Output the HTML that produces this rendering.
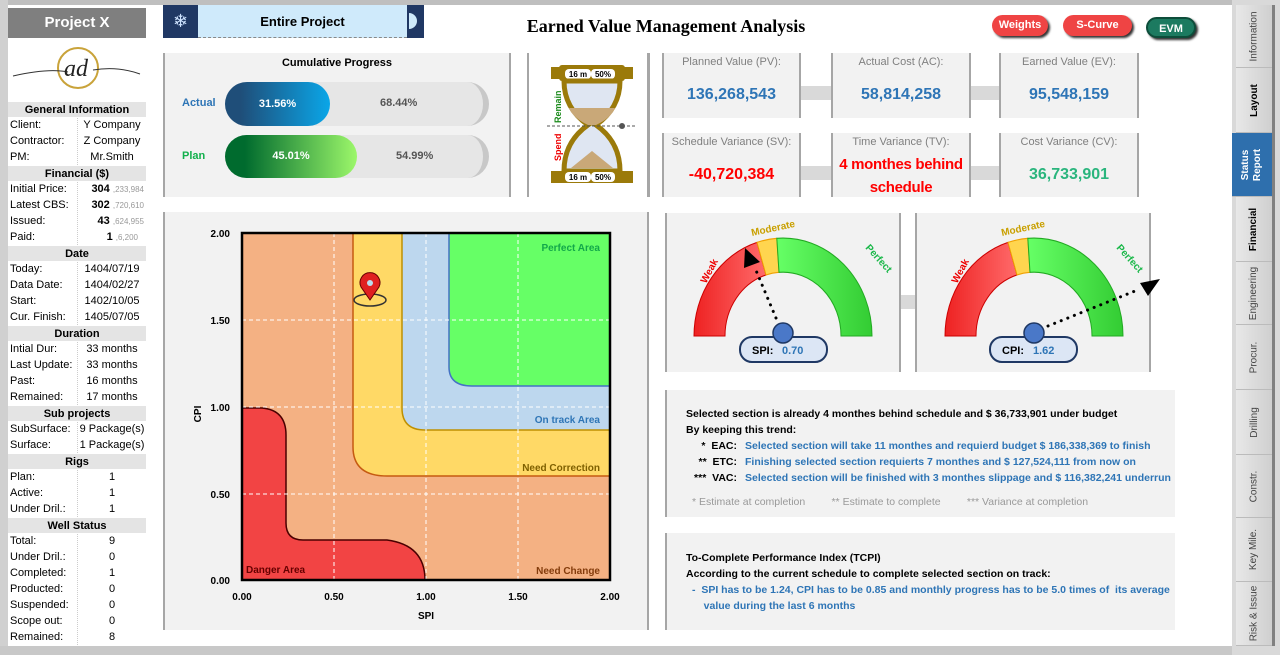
<!DOCTYPE html>
<html><head><meta charset="utf-8"><style>
*{margin:0;padding:0;box-sizing:border-box}
body{width:1280px;height:655px;position:relative;background:#fff;font-family:"Liberation Sans",Calibri,sans-serif;overflow:hidden;font-size:11px}
.a{position:absolute}
.panel{position:absolute;background:#f2f2f2;border-left:2px solid #a6a6a6;border-right:2px solid #a6a6a6}
.side div.r{height:16px;display:flex;border-bottom:1px solid #fff;background:#fff;font-size:11px;line-height:15px}
.side .r span:first-child{width:70px;padding-left:2px;border-right:1px dotted #ccc}
.side .r span:last-child{flex:1;text-align:center}
.side .h{height:16px;background:#e4e4e4;text-align:center;font-weight:bold;font-size:11px;line-height:16px;border-bottom:1px solid #fff}
.kpi{position:absolute;background:#f2f2f2;border-left:2px solid #a6a6a6;border-right:2px solid #a6a6a6;text-align:center}
.kpi .t{color:#7f7f7f;font-size:11px;margin-top:3px}
.kpi .v{font-weight:bold;font-size:16px;color:#2e75b6;margin-top:18px}
.tab{position:absolute;left:1236px;width:36px;background:linear-gradient(90deg,#e8e8e8,#cfcfcf);border-bottom:1px solid #bbb;display:flex;align-items:center;justify-content:center}
.tab span{transform:rotate(-90deg);white-space:nowrap;font-size:10px;color:#444}
.btn{position:absolute;height:21px;border-radius:11px;color:#fff;font-weight:bold;font-size:11px;text-align:center;line-height:20px;box-shadow:2px 2px 2px #333}
</style></head><body>
<div class="a" style="left:0;top:0;width:1280px;height:5px;background:#bfbfbf"></div>
<div class="a" style="left:0;top:0;width:8px;height:655px;background:#d0d0d0"></div>
<div class="a" style="left:0;top:646px;width:1232px;height:9px;background:#c8c8c8"></div>

<!-- sidebar -->
<div class="a side" style="left:8px;top:8px;width:138px">
<div style="height:30px;background:#7f7f7f;color:#fff;font-weight:bold;font-size:15px;text-align:center;line-height:30px">Project X</div>
<div style="height:64px;background:#fff;position:relative">
<svg width="138" height="64"><circle cx="70" cy="30" r="20" fill="none" stroke="#c9a33a" stroke-width="2"/><path d="M5 38 Q40 30 60 34 M85 32 Q110 28 132 36" stroke="#333" fill="none"/><text x="56" y="38" font-family="Liberation Serif" font-style="italic" font-size="24" fill="#222">ad</text></svg></div>
<div class="h">General Information</div>
<div class="r"><span>Client:</span><span>Y Company</span></div>
<div class="r"><span>Contractor:</span><span>Z Company</span></div>
<div class="r"><span>PM:</span><span>Mr.Smith</span></div>
<div class="h">Financial ($)</div>
<div class="r"><span>Initial Price:</span><span style="text-align:right;padding-right:2px"><b>304</b> <small style="color:#999;font-size:8px">,233,984</small></span></div>
<div class="r"><span>Latest CBS:</span><span style="text-align:right;padding-right:2px"><b>302</b> <small style="color:#999;font-size:8px">,720,610</small></span></div>
<div class="r"><span>Issued:</span><span style="text-align:right;padding-right:2px"><b>43</b> <small style="color:#999;font-size:8px">,624,955</small></span></div>
<div class="r"><span>Paid:</span><span style="text-align:right;padding-right:8px"><b>1</b> <small style="color:#999;font-size:8px">,6,200</small></span></div>
<div class="h">Date</div>
<div class="r"><span>Today:</span><span>1404/07/19</span></div>
<div class="r"><span>Data Date:</span><span>1404/02/27</span></div>
<div class="r"><span>Start:</span><span>1402/10/05</span></div>
<div class="r"><span>Cur. Finish:</span><span>1405/07/05</span></div>
<div class="h">Duration</div>
<div class="r"><span>Intial Dur:</span><span>33 months</span></div>
<div class="r"><span>Last Update:</span><span>33 months</span></div>
<div class="r"><span>Past:</span><span>16 months</span></div>
<div class="r"><span>Remained:</span><span>17 months</span></div>
<div class="h">Sub projects</div>
<div class="r"><span>SubSurface:</span><span>9 Package(s)</span></div>
<div class="r"><span>Surface:</span><span>1 Package(s)</span></div>
<div class="h">Rigs</div>
<div class="r"><span>Plan:</span><span>1</span></div>
<div class="r"><span>Active:</span><span>1</span></div>
<div class="r"><span>Under Dril.:</span><span>1</span></div>
<div class="h">Well Status</div>
<div class="r"><span>Total:</span><span>9</span></div>
<div class="r"><span>Under Dril.:</span><span>0</span></div>
<div class="r"><span>Completed:</span><span>1</span></div>
<div class="r"><span>Producted:</span><span>0</span></div>
<div class="r"><span>Suspended:</span><span>0</span></div>
<div class="r"><span>Scope out:</span><span>0</span></div>
<div class="r"><span>Remained:</span><span>8</span></div>
</div>

<!-- selector -->
<div class="a" style="left:163px;top:5px;width:35px;height:33px;background:#203864;color:#cfe3ff;font-size:18px;text-align:center;line-height:33px">❄</div>
<div class="a" style="left:198px;top:5px;width:209px;height:33px;background:#cfeafb;border-bottom:1px dashed #888;font-weight:bold;font-size:13px;text-align:center;line-height:33px">Entire Project</div>
<div class="a" style="left:407px;top:5px;width:17px;height:33px;background:#203864"><div class="a" style="left:2px;top:8px;width:8px;height:16px;background:#cfeafb;border-radius:0 8px 8px 0"></div></div>
<div class="a" style="left:440px;top:16px;width:452px;text-align:center;font-family:'Liberation Serif',serif;font-weight:bold;font-size:18px">Earned Value Management Analysis</div>
<div class="btn" style="left:992px;top:15px;width:56px;background:#ef4444">Weights</div>
<div class="btn" style="left:1063px;top:15px;width:69px;background:#ef4444">S-Curve</div>
<div class="btn" style="left:1146px;top:17px;width:50px;background:#1c7a60;border:2px solid #0d4d3a">EVM</div>

<!-- progress -->
<div class="panel" style="left:163px;top:53px;width:348px;height:144px">
<div class="a" style="left:0;width:344px;top:4px;text-align:center;font-weight:bold;font-size:11px">Cumulative Progress</div>
<div class="a" style="left:17px;top:44px;font-weight:bold;color:#2e75b6">Actual</div>
<div class="a" style="left:60px;top:29px;width:264px;height:44px;background:#e6e6e6;border-radius:22px;border-right:6px solid #c8c8c8"></div>
<div class="a" style="left:60px;top:29px;width:105px;height:44px;background:linear-gradient(90deg,#1f4e79 15%,#0aa6e8);border-radius:22px;color:#fff;font-weight:bold;line-height:44px;text-align:center">31.56%</div>
<div class="a" style="left:215px;top:44px;font-weight:bold;color:#555">68.44%</div>
<div class="a" style="left:17px;top:97px;font-weight:bold;color:#12b04c">Plan</div>
<div class="a" style="left:60px;top:82px;width:264px;height:43px;background:#e6e6e6;border-radius:22px;border-right:6px solid #c8c8c8"></div>
<div class="a" style="left:60px;top:82px;width:132px;height:43px;background:linear-gradient(90deg,#006b2e 15%,#9cf76a);border-radius:22px;color:#fff;font-weight:bold;line-height:43px;text-align:center">45.01%</div>
<div class="a" style="left:231px;top:97px;font-weight:bold;color:#555">54.99%</div>
</div>

<!-- hourglass -->
<div class="panel" style="left:527px;top:53px;width:122px;height:144px;background:#fff">
<svg class="a" style="left:0;top:0" width="120" height="144">
<rect x="22" y="14" width="82" height="12" fill="#9b7a0a"/><rect x="30" y="12" width="66" height="16" rx="3" fill="#9b7a0a"/>
<rect x="36" y="16" width="26" height="10" rx="4" fill="#fff"/><rect x="62" y="16" width="24" height="10" rx="4" fill="#fff"/>
<text x="49" y="24" font-size="8" font-weight="bold" text-anchor="middle">16 m</text><text x="74" y="24" font-size="8" font-weight="bold" text-anchor="middle">50%</text>
<path d="M35 28 L91 28 Q91 55 67 72 Q91 89 91 118 L35 118 Q35 89 59 72 Q35 55 35 28Z" fill="#dfe6f2" stroke="#9b7a0a" stroke-width="5"/>
<path d="M40 55 L86 55 Q82 65 67 72 L59 72 Q44 65 40 55Z" fill="#c9a878"/>
<path d="M63 72 L63 98 L42 115 L84 115 L63 98Z" fill="#c9a878"/>
<rect x="22" y="118" width="82" height="12" fill="#9b7a0a"/>
<rect x="36" y="119" width="26" height="10" rx="4" fill="#fff"/><rect x="62" y="119" width="24" height="10" rx="4" fill="#fff"/>
<text x="49" y="127" font-size="8" font-weight="bold" text-anchor="middle">16 m</text><text x="74" y="127" font-size="8" font-weight="bold" text-anchor="middle">50%</text>
<line x1="18" y1="73" x2="108" y2="73" stroke="#555" stroke-dasharray="3,2"/><circle cx="93" cy="73" r="3" fill="#555"/>
<text transform="translate(32,70) rotate(-90)" font-size="9" font-weight="bold" fill="#1a8a1a">Remain</text>
<text transform="translate(32,108) rotate(-90)" font-size="9" font-weight="bold" fill="#e00">Spend</text>
</svg></div>

<!-- KPIs -->
<div class="a" style="left:648px;top:53px;width:2px;height:144px;background:#a6a6a6"></div>
<div class="a" style="left:800px;top:86px;width:32px;height:14px;background:#d9d9d9"></div>
<div class="a" style="left:970px;top:86px;width:30px;height:14px;background:#d9d9d9"></div>
<div class="a" style="left:800px;top:166px;width:32px;height:14px;background:#d9d9d9"></div>
<div class="a" style="left:970px;top:166px;width:30px;height:14px;background:#d9d9d9"></div>
<div class="kpi" style="left:662px;top:53px;width:139px;height:65px"><div class="t">Planned Value (PV):</div><div class="v">136,268,543</div></div>
<div class="kpi" style="left:831px;top:53px;width:140px;height:65px"><div class="t">Actual Cost (AC):</div><div class="v">58,814,258</div></div>
<div class="kpi" style="left:999px;top:53px;width:140px;height:65px"><div class="t">Earned Value (EV):</div><div class="v">95,548,159</div></div>
<div class="kpi" style="left:662px;top:133px;width:139px;height:64px"><div class="t">Schedule Variance (SV):</div><div class="v" style="color:#f00">-40,720,384</div></div>
<div class="kpi" style="left:831px;top:133px;width:140px;height:64px"><div class="t">Time Variance (TV):</div><div style="color:#f00;font-weight:bold;font-size:15px;line-height:23px;margin-top:5px;white-space:nowrap;letter-spacing:-0.3px">4 monthes behind<br>schedule</div></div>
<div class="kpi" style="left:999px;top:133px;width:140px;height:64px"><div class="t">Cost Variance (CV):</div><div class="v" style="color:#2ab57d">36,733,901</div></div>

<!-- scatter -->
<div class="panel" style="left:163px;top:212px;width:486px;height:418px"></div>
<svg class="a" style="left:0;top:0" width="660" height="640">
<rect x="242" y="233" width="368" height="347" fill="#f4b183"/>
<path d="M353 233 L610 233 L610 476 L387 476 Q353 476 353 447Z" fill="#ffd966" stroke="#c55a11" stroke-width="1.5"/>
<path d="M402 233 L610 233 L610 430 L425 430 Q402 430 402 408Z" fill="#bdd7ee" stroke="#bf9000" stroke-width="1.5"/>
<path d="M449 233 L610 233 L610 386 L472 386 Q449 386 449 367Z" fill="#66ff66" stroke="#4472c4" stroke-width="1.5"/>
<path d="M242 408 L262 408 Q286 410 286 435 L286 523 Q286 540 303 540 L387 540 Q425 545 425 580 L242 580Z" fill="#f24444" stroke="#4a0000" stroke-width="1.5"/>
<g stroke="#fff" stroke-dasharray="4,3" stroke-width="1">
<line x1="334" y1="233" x2="334" y2="580"/><line x1="426" y1="233" x2="426" y2="580"/><line x1="518" y1="233" x2="518" y2="580"/>
<line x1="242" y1="320" x2="610" y2="320"/><line x1="242" y1="407" x2="610" y2="407"/><line x1="242" y1="494" x2="610" y2="494"/>
</g>
<rect x="242" y="233" width="368" height="347" fill="none" stroke="#000" stroke-width="2.5"/>
<g font-weight="bold" font-size="10" fill="#000" font-family="Liberation Sans">
<text x="230" y="237" text-anchor="end">2.00</text><text x="230" y="324" text-anchor="end">1.50</text><text x="230" y="411" text-anchor="end">1.00</text><text x="230" y="498" text-anchor="end">0.50</text><text x="230" y="584" text-anchor="end">0.00</text>
<text x="242" y="600" text-anchor="middle">0.00</text><text x="334" y="600" text-anchor="middle">0.50</text><text x="426" y="600" text-anchor="middle">1.00</text><text x="518" y="600" text-anchor="middle">1.50</text><text x="610" y="600" text-anchor="middle">2.00</text>
<text x="426" y="619" text-anchor="middle">SPI</text>
<text transform="translate(201,414) rotate(-90)" text-anchor="middle">CPI</text>
</g>
<g font-weight="bold" font-size="10">
<text x="600" y="251" text-anchor="end" fill="#12a84a">Perfect Area</text>
<text x="600" y="423" text-anchor="end" fill="#2e75b6">On track Area</text>
<text x="600" y="471" text-anchor="end" fill="#7f6000">Need Correction</text>
<text x="600" y="574" text-anchor="end" fill="#843c0c">Need Change</text>
<text x="246" y="573" fill="#600">Danger Area</text>
</g>
<ellipse cx="370" cy="300" rx="16" ry="6" fill="none" stroke="#333" stroke-width="1.5"/>
<path d="M370 300 L361 287 A10 10 0 1 1 379 287Z" fill="#e02020" stroke="#600"/>
<circle cx="370" cy="283" r="3" fill="#bde"/>
</svg>

<!-- gauges -->
<div class="panel" style="left:665px;top:213px;width:236px;height:159px"></div>
<div class="panel" style="left:915px;top:213px;width:236px;height:159px"></div>
<div class="a" style="left:901px;top:295px;width:14px;height:14px;background:#d9d9d9"></div>
<svg class="a" style="left:0;top:0" width="1240" height="400">
<defs>
<linearGradient id="rg" x1="0" x2="1"><stop offset="0" stop-color="#e22"/><stop offset="1" stop-color="#ff6a6a"/></linearGradient>
<linearGradient id="gg" x1="0" x2="1"><stop offset="0" stop-color="#6f6"/><stop offset="1" stop-color="#3c3"/></linearGradient>
<g id="g"><g transform="scale(1,1.1)">
<path d="M-89 0 A89 89 0 0 1 -26.0 -85.1 L-17 -55.5 A58 58 0 0 0 -58 0Z" fill="url(#rg)" stroke="#c00"/>
<path d="M-26.0 -85.1 A89 89 0 0 1 -6.2 -88.8 L-4 -57.9 A58 58 0 0 0 -17 -55.5Z" fill="#ffd54f" stroke="#f0a000"/>
<path d="M-6.2 -88.8 A89 89 0 0 1 89 0 L58 0 A58 58 0 0 0 -4 -57.9Z" fill="url(#gg)" stroke="#2a2"/>
</g></g>
</defs>
<use href="#g" x="783" y="336"/>
<use href="#g" x="1034" y="336"/>
<g font-weight="bold" font-size="10">
<text transform="translate(706,284) rotate(-62)" fill="#e00">Weak</text>
<text transform="translate(752,236) rotate(-12)" fill="#c9a000">Moderate</text>
<text transform="translate(865,248) rotate(48)" fill="#1bb84a">Perfect</text>
<text transform="translate(957,284) rotate(-62)" fill="#e00">Weak</text>
<text transform="translate(1002,236) rotate(-12)" fill="#c9a000">Moderate</text>
<text transform="translate(1116,248) rotate(48)" fill="#1bb84a">Perfect</text>
</g>
<line x1="776" y1="318" x2="755" y2="268" stroke="#000" stroke-width="3" stroke-dasharray="0.1,7" stroke-linecap="round"/>
<path d="M745 248 L744 268 L760 262Z" fill="#000"/>
<line x1="1048" y1="326" x2="1135" y2="291" stroke="#000" stroke-width="3" stroke-dasharray="0.1,7" stroke-linecap="round"/>
<path d="M1160 279 L1140 283 L1148 296Z" fill="#000"/>
<rect x="740" y="337" width="87" height="25" rx="12" fill="#dce6f5" stroke="#1f3864" stroke-width="2"/>
<rect x="990" y="337" width="87" height="25" rx="12" fill="#dce6f5" stroke="#1f3864" stroke-width="2"/>
<circle cx="783" cy="333" r="10" fill="#4a78c8" stroke="#1f3864" stroke-width="1.5"/>
<circle cx="1034" cy="333" r="10" fill="#4a78c8" stroke="#1f3864" stroke-width="1.5"/>
<g font-weight="bold" font-size="11"><text x="752" y="354">SPI:</text><text x="782" y="354" fill="#2e75b6">0.70</text>
<text x="1002" y="354">CPI:</text><text x="1033" y="354" fill="#2e75b6">1.62</text></g>
</svg>

<!-- text panels -->
<div class="a" style="left:665px;top:390px;width:510px;height:127px;background:#f2f2f2;border-left:2px solid #a6a6a6;font-weight:bold;font-size:10.5px;line-height:16px">
<div style="position:absolute;left:19px;top:16px">Selected section is already 4 monthes behind schedule and $ 36,733,901 under budget<br>By keeping this trend:</div>
<div style="position:absolute;left:0;top:48px;width:505px">
<div><span style="display:inline-block;width:70px;text-align:right">*&nbsp; EAC:</span><span style="color:#2e75b6;padding-left:8px">Selected section will take 11 monthes and requierd budget $ 186,338,369 to finish</span></div>
<div><span style="display:inline-block;width:70px;text-align:right">**&nbsp; ETC:</span><span style="color:#2e75b6;padding-left:8px">Finishing selected section requierts 7 monthes and $ 127,524,111 from now on</span></div>
<div><span style="display:inline-block;width:70px;text-align:right">***&nbsp; VAC:</span><span style="color:#2e75b6;padding-left:8px">Selected section will be finished with 3 monthes slippage and $ 116,382,241 underrun</span></div>
</div>
<div style="position:absolute;left:25px;top:104px;color:#999;font-weight:normal">* Estimate at completion &nbsp; &nbsp; &nbsp; &nbsp; ** Estimate to complete &nbsp; &nbsp; &nbsp; &nbsp; *** Variance at completion</div>
</div>
<div class="a" style="left:665px;top:533px;width:510px;height:97px;background:#f2f2f2;border-left:2px solid #a6a6a6;font-weight:bold;font-size:10.5px;line-height:16px">
<div style="position:absolute;left:19px;top:17px">To-Complete Performance Index (TCPI)<br>According to the current schedule to complete selected section on track:</div>
<div style="position:absolute;left:25px;top:49px;color:#2e75b6;width:480px">-&nbsp; SPI has to be 1.24, CPI has to be 0.85 and monthly progress has to be 5.0 times of &nbsp;its average<br>&nbsp;&nbsp;&nbsp;&nbsp;value during the last 6 months</div>
</div>

<!-- tabs -->
<div class="a" style="left:1232px;top:0;width:48px;height:655px;background:#d9d9d9"></div>
<div class="a" style="left:1272px;top:5px;width:3px;height:641px;background:#808080"></div>
<div class="tab" style="top:5px;height:63px"><span>Information</span></div>
<div class="tab" style="top:68px;height:65px"><span style="font-weight:bold;color:#000">Layout</span></div>
<div class="tab" style="left:1232px;top:133px;height:64px;width:40px;background:#2e6fad"><span style="color:#fff;font-weight:bold;text-align:center;line-height:12px">Status<br>Report</span></div>
<div class="tab" style="top:197px;height:65px"><span style="font-weight:bold;color:#000">Financial</span></div>
<div class="tab" style="top:262px;height:63px"><span>Engineering</span></div>
<div class="tab" style="top:325px;height:65px"><span>Procur.</span></div>
<div class="tab" style="top:390px;height:65px"><span>Drilling</span></div>
<div class="tab" style="top:455px;height:63px"><span>Constr.</span></div>
<div class="tab" style="top:518px;height:64px"><span>Key Mile.</span></div>
<div class="tab" style="top:582px;height:64px"><span>Risk &amp; Issue</span></div>
</body></html>
